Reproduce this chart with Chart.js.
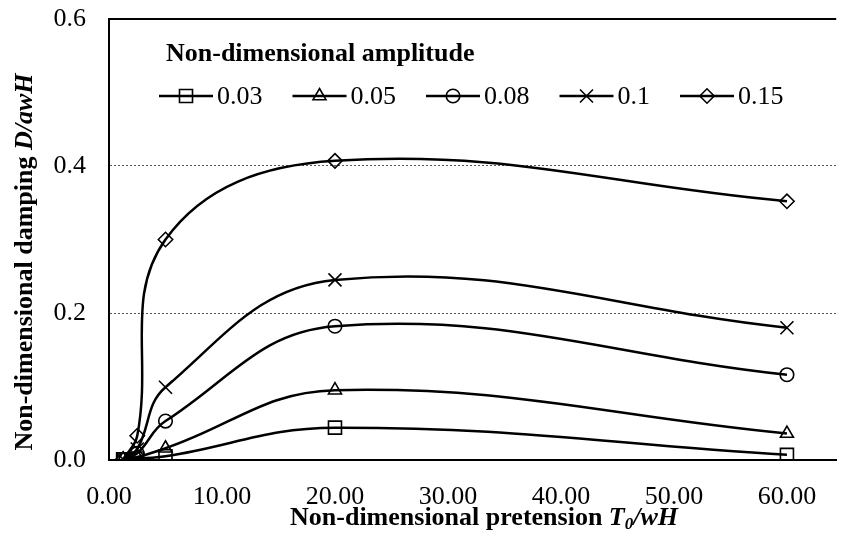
<!DOCTYPE html>
<html>
<head>
<meta charset="utf-8">
<script src="https://cdn.jsdelivr.net/npm/chart.js@4"></script>
<style>
  html, body { margin: 0; padding: 0; background: #fff; }
  #wrap { width: 847px; height: 533px; }
</style>
</head>
<body>
<div id="wrap"><canvas id="chart" width="847" height="533"></canvas></div>
<script>
  // pretension T0/wH
  var pretension = [1.25, 2.5, 5, 20, 60];
  // damping D/awH for each amplitude
  var amp003 = [0.001, 0.002, 0.005, 0.044, 0.007];
  var amp005 = [0.001, 0.004, 0.016, 0.095, 0.036];
  var amp008 = [0.001, 0.009, 0.053, 0.182, 0.116];
  var amp010 = [0.001, 0.015, 0.099, 0.245, 0.180];
  var amp015 = [0.001, 0.033, 0.300, 0.407, 0.352];
  var amplitudes = ["0.03", "0.05", "0.08", "0.1", "0.15"];
  var xTicks = [0, 10, 20, 30, 40, 50, 60];
  var yTicks = [0, 0.2, 0.4, 0.6];

  var FONT = "'Liberation Serif', 'Times New Roman', serif";
  var TICK = 26;
  var TITLE = 26;

  function pts(ys) {
    return ys.map(function (y, i) {
      return { x: pretension[i], y: y };
    });
  }

  function serie(label, ys, style, r) {
    return {
      label: label,
      data: pts(ys),
      borderColor: "#000",
      borderWidth: 2.5,
      tension: 0.4,
      fill: false,
      pointStyle: style,
      pointRadius: r,
      pointHoverRadius: r,
      pointBorderColor: "#000",
      pointBackgroundColor: "rgba(0,0,0,0)",
      pointBorderWidth: 1.6,
    };
  }

  // desenha texto com trechos de estilos diferentes
  function richText(ctx, parts, x, y, size) {
    var total = 0;
    parts.forEach(function (p) {
      ctx.font = p.f + " " + (p.sub ? size * 0.65 : size) + "px " + FONT;
      p.w = ctx.measureText(p.t).width;
      total += p.w;
    });
    var cx = x - total / 2;
    parts.forEach(function (p) {
      ctx.font = p.f + " " + (p.sub ? size * 0.65 : size) + "px " + FONT;
      ctx.fillText(p.t, cx, p.sub ? y + size * 0.25 : y);
      cx += p.w;
    });
  }

  var extras = {
    id: "extras",
    afterDraw: function (chart) {
      var ctx = chart.ctx;
      var a = chart.chartArea;
      ctx.save();
      // moldura superior
      ctx.strokeStyle = "#000";
      ctx.lineWidth = 2;
      ctx.beginPath();
      ctx.moveTo(a.left - 1, a.top);
      ctx.lineTo(a.right, a.top);
      ctx.stroke();

      ctx.fillStyle = "#000";
      ctx.textBaseline = "middle";
      ctx.textAlign = "left";
      // títulos dos eixos
      richText(ctx, [
        { t: "Non-dimensional pretension ", f: "bold" },
        { t: "T", f: "italic bold" },
        { t: "0", f: "italic bold", sub: true },
        { t: "/wH", f: "italic bold" },
      ], 484, 518, TITLE);
      ctx.save();
      ctx.translate(25, 262);
      ctx.rotate(-Math.PI / 2);
      richText(ctx, [
        { t: "Non-dimensional damping ", f: "bold" },
        { t: "D/awH", f: "italic bold" },
      ], 0, 0, TITLE);
      ctx.restore();

      // legenda
      ctx.font = "bold 26px " + FONT;
      ctx.fillText("Non-dimensional amplitude", 166, 54);
      ctx.font = TICK + "px " + FONT;
      var x = 159, y = 96;
      chart.data.datasets.forEach(function (ds) {
        ctx.strokeStyle = "#000";
        ctx.lineWidth = 2.5;
        ctx.beginPath();
        ctx.moveTo(x, y);
        ctx.lineTo(x + 54, y);
        ctx.stroke();
        ctx.lineWidth = 1.6;
        ctx.fillStyle = "rgba(0,0,0,0)";
        Chart.helpers.drawPoint(ctx, {
          pointStyle: ds.pointStyle,
          radius: ds.pointRadius,
          borderWidth: 1.6,
          rotation: 0,
        }, x + 27, y);
        ctx.fillStyle = "#000";
        ctx.fillText(ds.label, x + 58, y + 1);
        x += 58 + ctx.measureText(ds.label).width + 30;
      });
      ctx.restore();
    },
  };

  new Chart(document.getElementById("chart"), {
    type: "line",
    data: {
      datasets: [
        serie(amplitudes[0], amp003, "rect", 9.2),
        serie(amplitudes[1], amp005, "triangle", 7.5),
        serie(amplitudes[2], amp008, "circle", 6.8),
        serie(amplitudes[3], amp010, "crossRot", 9.2),
        serie(amplitudes[4], amp015, "rectRot", 7.2),
      ],
    },
    options: {
      responsive: false,
      animation: false,
      events: [],
      layout: { padding: { top: 19, right: 0, left: 0, bottom: 0 } },
      plugins: {
        legend: { display: false },
        tooltip: { enabled: false },
      },
      scales: {
        x: {
          type: "linear",
          min: 0,
          max: 64.36,
          afterBuildTicks: function (s) {
            s.ticks = xTicks.map(function (v) { return { value: v }; });
          },
          afterFit: function (s) {
            s.height = 73;
            s.paddingLeft = 0;
            s.paddingRight = 0;
          },
          grid: { display: false },
          border: { display: true, color: "#000", width: 2 },
          ticks: {
            color: "#000",
            padding: 14,
            maxRotation: 0,
            font: { family: FONT, size: TICK },
            callback: function (v) { return Number(v).toFixed(2); },
          },
        },
        y: {
          type: "linear",
          min: 0,
          max: 0.6,
          afterBuildTicks: function (s) {
            s.ticks = yTicks.map(function (v) { return { value: v }; });
          },
          afterFit: function (s) {
            s.width = 109;
            s.paddingTop = 0;
            s.paddingBottom = 0;
          },
          grid: {
            drawTicks: false,
            lineWidth: 1,
            color: function (c) {
              var v = c.tick ? c.tick.value : 0;
              return v > 0.01 && v < 0.59 ? "#555" : "rgba(0,0,0,0)";
            },
          },
          border: { display: true, color: "#000", width: 2, dash: [2, 2] },
          ticks: {
            color: "#000",
            padding: 23,
            font: { family: FONT, size: TICK },
            callback: function (v) { return Number(v).toFixed(1); },
          },
        },
      },
    },
    plugins: [extras],
  });
</script>
</body>
</html>
